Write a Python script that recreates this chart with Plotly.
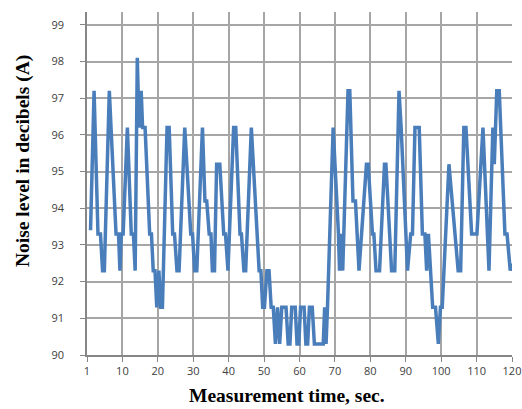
import plotly.graph_objects as go

# Vertex times (sec) and noise levels (dB(A))
time_s = [
    1.0, 2.0, 3.1, 3.8, 4.4, 4.9, 6.3, 8.2, 8.9, 9.3, 9.7, 10.2, 11.4, 12.5, 13.1, 13.6,
    14.2, 14.7, 15.3, 15.7, 16.4, 17.7, 18.2, 18.7, 19.2, 19.7, 20.3, 20.8, 21.3, 22.6,
    23.2, 24.2, 24.7, 25.4, 26.0, 27.6, 29.3, 29.8, 30.4, 31.0, 32.6, 33.3, 33.8, 34.5,
    35.0, 35.4, 36.0, 36.6, 37.5, 38.6, 39.1, 39.8, 41.4, 42.0, 43.2, 43.6, 44.3, 44.8,
    46.4, 48.6, 49.1, 49.6, 50.1, 50.8, 51.4, 52.0, 52.6, 53.2, 53.8, 54.4, 55.0, 56.2,
    56.8, 57.3, 57.8, 58.8, 59.3, 59.8, 60.3, 61.3, 61.8, 62.3, 62.8, 63.6, 64.2, 66.7,
    67.1, 67.5, 67.9, 68.5, 69.5, 71.0, 71.3, 71.7, 72.2, 73.7, 74.2, 75.1, 75.8, 76.8,
    78.9, 79.4, 80.6, 81.0, 81.6, 82.6, 84.0, 84.4, 86.0, 86.9, 88.1, 88.7, 90.5, 91.4,
    91.9, 92.6, 93.8, 94.7, 95.4, 95.9, 96.4, 97.6, 98.4, 99.2, 99.8, 100.3, 102.2, 104.8,
    105.5, 106.4, 107.0, 108.6, 110.1, 111.8, 113.5, 114.6, 115.0, 115.7, 116.4, 118.0,
    118.6, 119.5, 119.8,
]
noise_db = [
    93.4, 97.2, 93.3, 93.3, 92.3, 92.3, 97.2, 93.3, 93.3, 92.3, 93.3, 93.3, 96.2, 93.3, 93.3, 92.3,
    98.1, 96.2, 97.2, 96.2, 96.2, 93.3, 93.3, 92.3, 92.3, 91.3, 92.3, 91.3, 91.3, 96.2,
    96.2, 93.3, 93.3, 92.3, 92.3, 96.2, 93.3, 93.3, 92.3, 92.3, 96.2, 94.2, 94.2, 93.3,
    93.3, 92.3, 92.3, 95.2, 95.2, 93.3, 93.3, 92.3, 96.2, 96.2, 93.3, 93.3, 92.3, 92.3,
    96.2, 92.3, 92.3, 91.3, 91.3, 92.3, 92.3, 91.3, 91.3, 90.3, 91.3, 90.3, 91.3, 91.3,
    90.3, 90.3, 91.3, 91.3, 90.3, 90.3, 91.3, 91.3, 90.3, 90.3, 91.3, 91.3, 90.3, 90.3,
    91.3, 90.3, 91.3, 93.0, 96.2, 93.3, 92.3, 93.3, 92.3, 97.2, 97.2, 94.2, 94.2, 92.3,
    95.2, 95.2, 93.3, 93.3, 92.3, 92.3, 95.2, 95.2, 92.3, 92.3, 97.2, 96.2, 92.3, 93.3,
    93.3, 96.2, 96.2, 93.3, 93.3, 92.3, 93.3, 91.3, 91.3, 90.3, 91.3, 91.3, 95.2, 92.3,
    92.3, 96.2, 96.2, 93.3, 93.3, 96.2, 92.3, 96.2, 95.2, 97.2, 97.2, 93.3,
    93.3, 92.3, 92.5,
]

x_tickvals = [0, 10, 20, 30, 40, 50, 60, 70, 80, 90, 100, 110, 120]
x_ticktext = ["1", "10", "20", "30", "40", "50", "60", "70", "80", "90", "100", "110", "120"]
y_tickvals = [90, 91, 92, 93, 94, 95, 96, 97, 98, 99]

fig = go.Figure()
fig.add_trace(go.Scatter(
    x=time_s, y=noise_db, mode="lines",
    line=dict(color="#4a7ebb", width=3.5),
    showlegend=False, hoverinfo="skip",
))

tick_font = dict(family="Open Sans, Liberation Sans, sans-serif", size=11, color="#404040")
title_font = dict(family="Liberation Serif, Times New Roman, serif", size=19.5, color="#000")
fig.update_layout(
    width=522, height=409,
    margin=dict(l=87, r=10, t=12, b=54, autoexpand=False),
    paper_bgcolor="white", plot_bgcolor="white",
    xaxis=dict(
        range=[0, 120], tickvals=x_tickvals, ticktext=x_ticktext,
        showgrid=True, gridcolor="#a6a6a6", gridwidth=1.5,
        showline=True, linecolor="#868686", linewidth=1.5,
        ticks="outside", ticklen=5, tickcolor="#868686",
        tickfont=tick_font, zeroline=False,
    ),
    yaxis=dict(
        range=[90, 99.35], tickvals=y_tickvals,
        showgrid=True, gridcolor="#a6a6a6", gridwidth=1.5,
        showline=True, linecolor="#868686", linewidth=1.5,
        ticks="outside", ticklen=5, tickcolor="#868686",
        tickfont=tick_font, zeroline=False, ticklabelstandoff=14,
    ),
    annotations=[
        dict(text="<b>Measurement time, sec.</b>", xref="paper", yref="paper",
             x=(287 - 87) / 425, y=-(395 - 355) / 343, xanchor="center", yanchor="middle",
             showarrow=False, font=title_font),
        dict(text="<b>Noise level in decibels (A)</b>", xref="paper", yref="paper",
             x=-(87 - 23) / 425, y=(355 - 161) / 343, xanchor="center", yanchor="middle",
             textangle=-90, showarrow=False, font=title_font),
    ],
)

fig.write_html(
    "out.html",
    config={"displayModeBar": False},
    post_script="document.body.style.margin='0';document.documentElement.style.overflow='hidden';document.body.style.overflow='hidden';",
)
